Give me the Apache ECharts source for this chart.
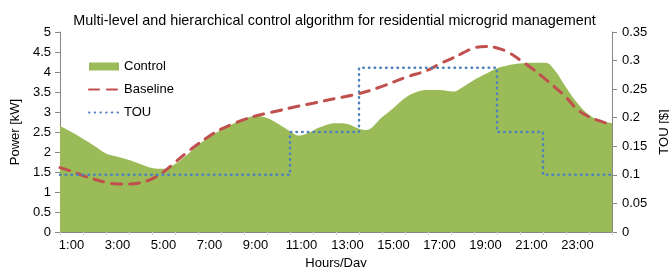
<!DOCTYPE html>
<html>
<head>
<meta charset="utf-8">
<script src="https://cdn.jsdelivr.net/npm/echarts@6/dist/echarts.min.js"></script>
<style>
  html, body { margin: 0; padding: 0; background: #fff; }
  #chart { width: 669px; height: 267px; }
</style>
</head>
<body>
<div id="chart"></div>
<script>
// x axis labels, one category per hour
var hours = [];
for (var h = 1; h <= 24; h++) hours.push(h + ':00');

// time (hours from the left edge of the plot) and power [kW]
var controlTime = [0, 0.5, 1, 1.5, 2, 2.5, 3, 3.5, 4, 4.5, 5, 5.5, 6, 6.5, 7, 7.5, 8, 8.5, 9, 9.5, 10, 10.4, 10.8, 11.3, 12, 12.5, 13, 13.3, 14, 14.5, 15, 15.5, 16, 16.5, 17.1, 17.5, 18, 18.5, 19, 19.5, 20, 20.5, 21.1, 21.5, 22, 22.5, 23, 23.5, 24];
var controlPower = [2.65, 2.5, 2.33, 2.15, 1.96, 1.88, 1.8, 1.7, 1.6, 1.58, 1.7, 1.92, 2.17, 2.38, 2.55, 2.7, 2.82, 2.9, 2.85, 2.7, 2.52, 2.41, 2.48, 2.62, 2.72, 2.7, 2.58, 2.55, 2.87, 3.1, 3.35, 3.5, 3.55, 3.55, 3.51, 3.62, 3.8, 3.95, 4.09, 4.17, 4.21, 4.23, 4.23, 4.05, 3.62, 3.22, 2.93, 2.78, 2.72];

var baselineTime = [0, 0.5, 1, 1.5, 2, 2.5, 3, 3.5, 4, 4.5, 5, 5.5, 6, 6.5, 7, 7.5, 8, 8.5, 9, 9.5, 10, 11, 12, 13, 14, 15, 16, 16.5, 17, 17.5, 18, 18.5, 19, 19.5, 20, 20.5, 21, 21.5, 22, 22.5, 23, 23.5, 23.75];
var baselinePower = [1.61, 1.52, 1.41, 1.32, 1.24, 1.2, 1.2, 1.23, 1.33, 1.5, 1.74, 1.98, 2.2, 2.4, 2.57, 2.7, 2.81, 2.9, 2.97, 3.03, 3.1, 3.22, 3.34, 3.46, 3.64, 3.86, 4.05, 4.2, 4.33, 4.47, 4.6, 4.64, 4.6, 4.49, 4.3, 4.1, 3.87, 3.63, 3.37, 3.06, 2.88, 2.77, 2.72];

// time of use price [$], each value holds until the next change
var touTime = [0, 10, 13, 19, 21, 24];
var touPrice = [0.1, 0.175, 0.2875, 0.175, 0.1, 0.1];

function pairs(xs, ys) {
  return xs.map(function (x, i) { return [x, ys[i]]; });
}

var font = 'Liberation Sans';
var axisGray = '#868686';

var chart = echarts.init(document.getElementById('chart'));
chart.setOption({
  animation: false,
  textStyle: { fontFamily: font },
  title: {
    text: 'Multi-level and hierarchical control algorithm for residential microgrid management',
    left: 'center',
    top: 9,
    textStyle: { fontSize: 14.4, fontWeight: 'normal', color: '#000', fontFamily: font }
  },
  legend: {
    orient: 'vertical',
    left: 83,
    top: 55,
    itemWidth: 30,
    itemHeight: 8,
    itemGap: 10,
    textStyle: { fontSize: 13, color: '#000', fontFamily: font },
    data: [
      { name: 'Control', icon: 'rect' },
      { name: 'Baseline', itemStyle: { opacity: 0 } },
      { name: 'TOU', itemStyle: { opacity: 0 } }
    ]
  },
  grid: { left: 60, right: 57, top: 32, bottom: 35, outerBoundsMode: 'none' },
  xAxis: [
    {
      type: 'category',
      data: hours,
      boundaryGap: true,
      name: 'Hours/Day',
      nameLocation: 'middle',
      nameGap: 24,
      nameTextStyle: { fontSize: 13, color: '#000' },
      axisLine: { lineStyle: { color: axisGray } },
      axisTick: { show: true, interval: 0, length: 3, lineStyle: { color: '#d0d0d0' } },
      axisLabel: { interval: 1, fontSize: 13, color: '#000', margin: 7 }
    },
    { type: 'value', min: 0, max: 24, show: false }
  ],
  yAxis: [
    {
      type: 'value',
      min: 0, max: 5, interval: 0.5,
      name: 'Power [kW]',
      nameLocation: 'middle',
      nameGap: 30,
      nameTextStyle: { fontSize: 13, color: '#000' },
      axisLine: { show: true, lineStyle: { color: axisGray } },
      axisTick: { show: true, length: 5, lineStyle: { color: axisGray } },
      axisLabel: { fontSize: 13, color: '#000', margin: 9 },
      splitLine: { show: false }
    },
    {
      type: 'value',
      min: 0, max: 0.35, interval: 0.05,
      position: 'right',
      name: 'TOU [$]',
      nameLocation: 'middle',
      nameGap: 40,
      nameTextStyle: { fontSize: 13, color: '#000' },
      axisLine: { show: true, lineStyle: { color: axisGray } },
      axisTick: { show: true, length: 5, lineStyle: { color: axisGray } },
      axisLabel: { fontSize: 13, color: '#000', margin: 10 },
      splitLine: { show: false }
    }
  ],
  series: [
    {
      name: 'Control',
      type: 'line',
      xAxisIndex: 1,
      yAxisIndex: 0,
      smooth: 0.4,
      symbol: 'none',
      color: '#9BBB59',
      lineStyle: { width: 0 },
      areaStyle: { color: '#9BBB59', opacity: 1 },
      data: pairs(controlTime, controlPower)
    },
    {
      name: 'Baseline',
      type: 'line',
      xAxisIndex: 1,
      yAxisIndex: 0,
      smooth: 0.4,
      symbol: 'none',
      color: '#C0504D',
      lineStyle: { width: 3, type: [10, 8], cap: 'round' },
      data: pairs(baselineTime, baselinePower)
    },
    {
      name: 'TOU',
      type: 'line',
      xAxisIndex: 1,
      yAxisIndex: 1,
      step: 'end',
      symbol: 'none',
      color: '#4F81BD',
      lineStyle: { width: 2.5, type: [0.5, 5.2], cap: 'round' },
      data: pairs(touTime, touPrice)
    }
  ]
});
</script>
</body>
</html>
